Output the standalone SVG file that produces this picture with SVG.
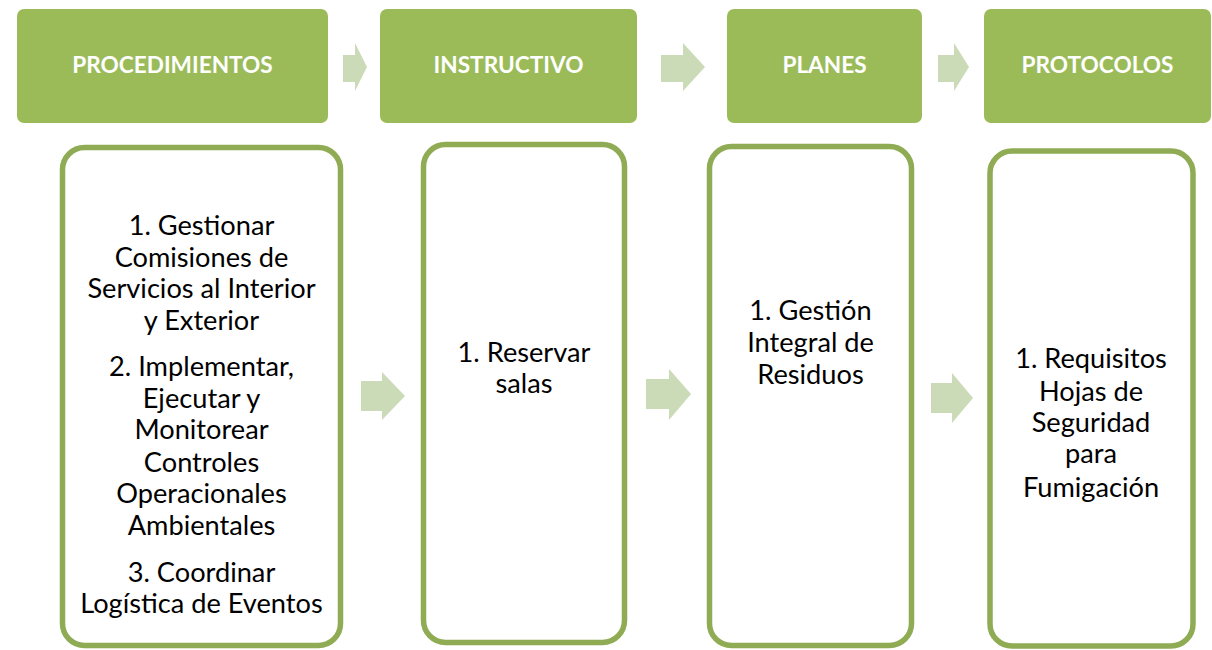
<svg xmlns="http://www.w3.org/2000/svg" width="1212" height="650" viewBox="0 0 1212 650">
<style>
.hdr{fill:#9BBB59}
.hdrt{fill:#FFFFFF;font-family:Lato,"Open Sans","Liberation Sans",sans-serif;font-weight:bold;font-size:22.6px;text-anchor:middle}
.box{fill:#FFFFFF;stroke:#8FAC55;stroke-width:5.5}
.bt{fill:#000000;font-family:Lato,"Open Sans","Liberation Sans",sans-serif;font-size:27.2px;text-anchor:middle}
.arr{fill:#CCDBB7}
</style>
<rect width="1212" height="650" fill="#FFFFFF"/>
<g id="hdr-procedimientos"><rect class="hdr" x="17" y="9" width="311" height="114" rx="7"/><text class="hdrt" x="172.5" y="73">PROCEDIMIENTOS</text></g>
<g id="hdr-instructivo"><rect class="hdr" x="380" y="9" width="257" height="114" rx="7"/><text class="hdrt" x="508.5" y="73">INSTRUCTIVO</text></g>
<g id="hdr-planes"><rect class="hdr" x="727" y="9" width="195" height="114" rx="7"/><text class="hdrt" x="824.5" y="73">PLANES</text></g>
<g id="hdr-protocolos"><rect class="hdr" x="984" y="9" width="227" height="114" rx="7"/><text class="hdrt" x="1097.5" y="73">PROTOCOLOS</text></g>
<g id="box-procedimientos"><rect class="box" x="62.5" y="147.5" width="278" height="498" rx="22"/>
<text class="bt"><tspan x="201.5" y="235">1. Gestionar</tspan><tspan x="201.5" y="267">Comisiones de</tspan><tspan x="201.5" y="298">Servicios al Interior</tspan><tspan x="201.5" y="330">y Exterior</tspan><tspan x="201.5" y="376">2. Implementar,</tspan><tspan x="201.5" y="408">Ejecutar y</tspan><tspan x="201.5" y="439">Monitorear</tspan><tspan x="201.5" y="472">Controles</tspan><tspan x="201.5" y="503">Operacionales</tspan><tspan x="201.5" y="535">Ambientales</tspan><tspan x="201.5" y="582">3. Coordinar</tspan><tspan x="201.5" y="613">Logística de Eventos</tspan></text></g>
<g id="box-instructivo"><rect class="box" x="423.5" y="144.5" width="201" height="498" rx="22"/>
<text class="bt"><tspan x="524" y="362">1. Reservar</tspan><tspan x="524" y="393">salas</tspan></text></g>
<g id="box-planes"><rect class="box" x="709.5" y="146.5" width="202" height="499" rx="22"/>
<text class="bt"><tspan x="810.5" y="320">1. Gestión</tspan><tspan x="810.5" y="352">Integral de</tspan><tspan x="810.5" y="384">Residuos</tspan></text></g>
<g id="box-protocolos"><rect class="box" x="990" y="151" width="203" height="495" rx="22"/>
<text class="bt"><tspan x="1091" y="368">1. Requisitos</tspan><tspan x="1091" y="401">Hojas de</tspan><tspan x="1091" y="432">Seguridad</tspan><tspan x="1091" y="463">para</tspan><tspan x="1091" y="497">Fumigación</tspan></text></g>
<g id="connectors">
<polygon class="arr" points="343,55 355,55 355,43 367,67 355,91 355,82 343,82"/>
<polygon class="arr" points="661,55 683,55 683,43 705,67 683,91 683,82 661,82"/>
<polygon class="arr" points="938,55 954,55 954,43 969,67 954,91 954,82 938,82"/>
<polygon class="arr" points="361,381 382,381 382,372 405,396 382,420 382,411 361,411"/>
<polygon class="arr" points="646,379 669,379 669,369 691,394 669,420 669,409 646,409"/>
<polygon class="arr" points="931,383 952,383 952,373 973,398 952,423 952,413 931,413"/>
</g>
</svg>
